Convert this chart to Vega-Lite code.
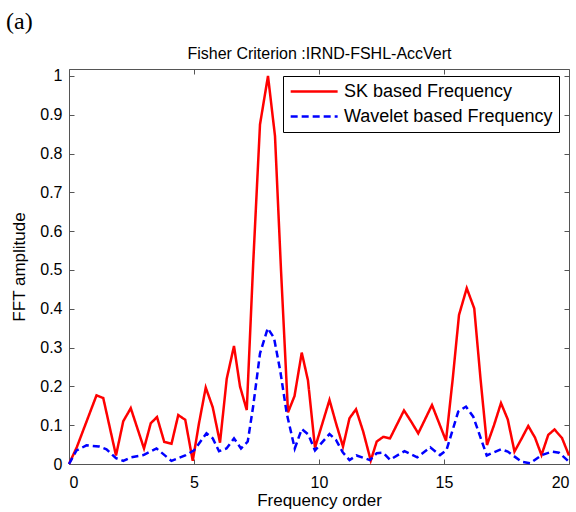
{
  "$schema": "https://vega.github.io/schema/vega-lite/v6.json",
  "width": 500,
  "height": 395,
  "autosize": {"type": "none"},
  "padding": {"left": 69, "top": 69, "right": 7, "bottom": 48},
  "config": {
    "view": {"stroke": "#555555", "strokeWidth": 1},
    "font": "Liberation Sans",
    "axis": {
      "labelFont": "Liberation Sans",
      "labelFontSize": 16,
      "labelColor": "#000000",
      "titleFont": "Liberation Sans",
      "titleFontSize": 17,
      "titleFontWeight": "normal",
      "titleColor": "#000000",
      "tickColor": "#555555",
      "tickSize": -5,
      "domain": false,
      "grid": false
    }
  },
  "title": {
    "text": "(a)",
    "anchor": "start",
    "frame": "group",
    "font": "Liberation Serif",
    "fontSize": 24,
    "fontWeight": "normal",
    "color": "#000000",
    "dx": -63,
    "offset": 12
  },
  "data": {
    "values": [
      {"f": 0, "amp": 0, "s": "SK based Frequency"},
      {"f": 0.31, "amp": 0.043, "s": "SK based Frequency"},
      {"f": 1.1, "amp": 0.177, "s": "SK based Frequency"},
      {"f": 1.37, "amp": 0.17, "s": "SK based Frequency"},
      {"f": 1.88, "amp": 0.022, "s": "SK based Frequency"},
      {"f": 2.17, "amp": 0.11, "s": "SK based Frequency"},
      {"f": 2.47, "amp": 0.144, "s": "SK based Frequency"},
      {"f": 3.0, "amp": 0.04, "s": "SK based Frequency"},
      {"f": 3.27, "amp": 0.105, "s": "SK based Frequency"},
      {"f": 3.52, "amp": 0.121, "s": "SK based Frequency"},
      {"f": 3.81, "amp": 0.057, "s": "SK based Frequency"},
      {"f": 4.1, "amp": 0.052, "s": "SK based Frequency"},
      {"f": 4.37, "amp": 0.126, "s": "SK based Frequency"},
      {"f": 4.65, "amp": 0.114, "s": "SK based Frequency"},
      {"f": 4.95, "amp": 0.008, "s": "SK based Frequency"},
      {"f": 5.2, "amp": 0.105, "s": "SK based Frequency"},
      {"f": 5.47, "amp": 0.197, "s": "SK based Frequency"},
      {"f": 5.75, "amp": 0.146, "s": "SK based Frequency"},
      {"f": 6.04, "amp": 0.055, "s": "SK based Frequency"},
      {"f": 6.31, "amp": 0.22, "s": "SK based Frequency"},
      {"f": 6.6, "amp": 0.304, "s": "SK based Frequency"},
      {"f": 6.84, "amp": 0.2, "s": "SK based Frequency"},
      {"f": 7.11, "amp": 0.139, "s": "SK based Frequency"},
      {"f": 7.37, "amp": 0.52, "s": "SK based Frequency"},
      {"f": 7.64, "amp": 0.875, "s": "SK based Frequency"},
      {"f": 7.96, "amp": 1.0, "s": "SK based Frequency"},
      {"f": 8.24, "amp": 0.845, "s": "SK based Frequency"},
      {"f": 8.48, "amp": 0.5, "s": "SK based Frequency"},
      {"f": 8.76, "amp": 0.133, "s": "SK based Frequency"},
      {"f": 9.02, "amp": 0.175, "s": "SK based Frequency"},
      {"f": 9.31, "amp": 0.287, "s": "SK based Frequency"},
      {"f": 9.56, "amp": 0.215, "s": "SK based Frequency"},
      {"f": 9.84, "amp": 0.042, "s": "SK based Frequency"},
      {"f": 10.42, "amp": 0.165, "s": "SK based Frequency"},
      {"f": 10.68, "amp": 0.105, "s": "SK based Frequency"},
      {"f": 10.96, "amp": 0.045, "s": "SK based Frequency"},
      {"f": 11.22, "amp": 0.118, "s": "SK based Frequency"},
      {"f": 11.48, "amp": 0.141, "s": "SK based Frequency"},
      {"f": 11.77, "amp": 0.083, "s": "SK based Frequency"},
      {"f": 12.07, "amp": 0.009, "s": "SK based Frequency"},
      {"f": 12.31, "amp": 0.058, "s": "SK based Frequency"},
      {"f": 12.57, "amp": 0.07, "s": "SK based Frequency"},
      {"f": 12.84, "amp": 0.066, "s": "SK based Frequency"},
      {"f": 13.4, "amp": 0.138, "s": "SK based Frequency"},
      {"f": 13.68, "amp": 0.11, "s": "SK based Frequency"},
      {"f": 13.97, "amp": 0.079, "s": "SK based Frequency"},
      {"f": 14.52, "amp": 0.152, "s": "SK based Frequency"},
      {"f": 15.08, "amp": 0.06, "s": "SK based Frequency"},
      {"f": 15.35, "amp": 0.22, "s": "SK based Frequency"},
      {"f": 15.6, "amp": 0.384, "s": "SK based Frequency"},
      {"f": 15.91, "amp": 0.453, "s": "SK based Frequency"},
      {"f": 16.21, "amp": 0.401, "s": "SK based Frequency"},
      {"f": 16.46, "amp": 0.22, "s": "SK based Frequency"},
      {"f": 16.72, "amp": 0.049, "s": "SK based Frequency"},
      {"f": 17.0, "amp": 0.1, "s": "SK based Frequency"},
      {"f": 17.28, "amp": 0.157, "s": "SK based Frequency"},
      {"f": 17.55, "amp": 0.115, "s": "SK based Frequency"},
      {"f": 17.82, "amp": 0.032, "s": "SK based Frequency"},
      {"f": 18.1, "amp": 0.065, "s": "SK based Frequency"},
      {"f": 18.37, "amp": 0.098, "s": "SK based Frequency"},
      {"f": 18.64, "amp": 0.068, "s": "SK based Frequency"},
      {"f": 18.9, "amp": 0.023, "s": "SK based Frequency"},
      {"f": 19.17, "amp": 0.075, "s": "SK based Frequency"},
      {"f": 19.42, "amp": 0.089, "s": "SK based Frequency"},
      {"f": 19.72, "amp": 0.067, "s": "SK based Frequency"},
      {"f": 20.0, "amp": 0.022, "s": "SK based Frequency"},
      {"f": 0, "amp": 0, "s": "Wavelet based Frequency"},
      {"f": 0.3, "amp": 0.035, "s": "Wavelet based Frequency"},
      {"f": 0.7, "amp": 0.048, "s": "Wavelet based Frequency"},
      {"f": 1.2, "amp": 0.045, "s": "Wavelet based Frequency"},
      {"f": 1.5, "amp": 0.038, "s": "Wavelet based Frequency"},
      {"f": 1.88, "amp": 0.015, "s": "Wavelet based Frequency"},
      {"f": 2.17, "amp": 0.008, "s": "Wavelet based Frequency"},
      {"f": 2.47, "amp": 0.017, "s": "Wavelet based Frequency"},
      {"f": 2.98, "amp": 0.023, "s": "Wavelet based Frequency"},
      {"f": 3.5, "amp": 0.04, "s": "Wavelet based Frequency"},
      {"f": 4.1, "amp": 0.008, "s": "Wavelet based Frequency"},
      {"f": 4.65, "amp": 0.022, "s": "Wavelet based Frequency"},
      {"f": 5.0, "amp": 0.035, "s": "Wavelet based Frequency"},
      {"f": 5.5, "amp": 0.079, "s": "Wavelet based Frequency"},
      {"f": 5.75, "amp": 0.066, "s": "Wavelet based Frequency"},
      {"f": 6.0, "amp": 0.033, "s": "Wavelet based Frequency"},
      {"f": 6.3, "amp": 0.04, "s": "Wavelet based Frequency"},
      {"f": 6.6, "amp": 0.066, "s": "Wavelet based Frequency"},
      {"f": 6.88, "amp": 0.04, "s": "Wavelet based Frequency"},
      {"f": 7.15, "amp": 0.058, "s": "Wavelet based Frequency"},
      {"f": 7.37, "amp": 0.15, "s": "Wavelet based Frequency"},
      {"f": 7.64, "amp": 0.285, "s": "Wavelet based Frequency"},
      {"f": 7.95, "amp": 0.35, "s": "Wavelet based Frequency"},
      {"f": 8.2, "amp": 0.325, "s": "Wavelet based Frequency"},
      {"f": 8.45, "amp": 0.24, "s": "Wavelet based Frequency"},
      {"f": 8.71, "amp": 0.13, "s": "Wavelet based Frequency"},
      {"f": 9.03, "amp": 0.04, "s": "Wavelet based Frequency"},
      {"f": 9.31, "amp": 0.09, "s": "Wavelet based Frequency"},
      {"f": 9.57, "amp": 0.076, "s": "Wavelet based Frequency"},
      {"f": 9.84, "amp": 0.035, "s": "Wavelet based Frequency"},
      {"f": 10.42, "amp": 0.077, "s": "Wavelet based Frequency"},
      {"f": 10.68, "amp": 0.062, "s": "Wavelet based Frequency"},
      {"f": 10.95, "amp": 0.03, "s": "Wavelet based Frequency"},
      {"f": 11.22, "amp": 0.01, "s": "Wavelet based Frequency"},
      {"f": 11.5, "amp": 0.022, "s": "Wavelet based Frequency"},
      {"f": 12.04, "amp": 0.01, "s": "Wavelet based Frequency"},
      {"f": 12.31, "amp": 0.028, "s": "Wavelet based Frequency"},
      {"f": 12.57, "amp": 0.029, "s": "Wavelet based Frequency"},
      {"f": 12.84, "amp": 0.011, "s": "Wavelet based Frequency"},
      {"f": 13.42, "amp": 0.033, "s": "Wavelet based Frequency"},
      {"f": 13.93, "amp": 0.017, "s": "Wavelet based Frequency"},
      {"f": 14.45, "amp": 0.043, "s": "Wavelet based Frequency"},
      {"f": 14.84, "amp": 0.023, "s": "Wavelet based Frequency"},
      {"f": 15.1, "amp": 0.036, "s": "Wavelet based Frequency"},
      {"f": 15.57, "amp": 0.135, "s": "Wavelet based Frequency"},
      {"f": 15.88, "amp": 0.148, "s": "Wavelet based Frequency"},
      {"f": 16.17, "amp": 0.122, "s": "Wavelet based Frequency"},
      {"f": 16.71, "amp": 0.022, "s": "Wavelet based Frequency"},
      {"f": 17.28, "amp": 0.038, "s": "Wavelet based Frequency"},
      {"f": 17.55, "amp": 0.032, "s": "Wavelet based Frequency"},
      {"f": 18.1, "amp": 0.006, "s": "Wavelet based Frequency"},
      {"f": 18.44, "amp": 0.002, "s": "Wavelet based Frequency"},
      {"f": 18.91, "amp": 0.023, "s": "Wavelet based Frequency"},
      {"f": 19.33, "amp": 0.032, "s": "Wavelet based Frequency"},
      {"f": 19.6, "amp": 0.029, "s": "Wavelet based Frequency"},
      {"f": 20.0, "amp": 0.006, "s": "Wavelet based Frequency"}
    ]
  },
  "layer": [
    {
      "mark": {"type": "line", "strokeWidth": 2.5, "strokeJoin": "miter"},
      "encoding": {
        "x": {
          "field": "f", "type": "quantitative",
          "scale": {"domain": [0, 20], "nice": false, "zero": false},
          "axis": {"orient": "bottom", "values": [0, 5, 10, 15, 20], "title": "Frequency order", "labelPadding": 15, "titlePadding": 2}
        },
        "y": {
          "field": "amp", "type": "quantitative",
          "scale": {"domain": [0, 1.018], "nice": false},
          "axis": {"orient": "left", "values": [0, 0.1, 0.2, 0.3, 0.4, 0.5, 0.6, 0.7, 0.8, 0.9, 1], "format": "~g", "title": "FFT amplitude", "labelPadding": 12, "titlePadding": 11}
        },
        "color": {
          "field": "s", "type": "nominal",
          "scale": {"domain": ["SK based Frequency", "Wavelet based Frequency"], "range": ["#ff0000", "#0000ff"]},
          "legend": {"title": null, "orient": "none", "legendX": 214, "legendY": 7, "direction": "vertical", "symbolType": "M-1,0H5", "symbolSize": 245, "symbolStrokeWidth": 2.5, "labelFont": "Liberation Sans", "labelFontSize": 18, "labelColor": "#000000", "labelOffset": 36, "padding": 6, "rowPadding": 6, "strokeColor": "#000000", "fillColor": "#ffffff", "labelLimit": 400}
        },
        "strokeDash": {
          "field": "s", "type": "nominal",
          "scale": {"domain": ["SK based Frequency", "Wavelet based Frequency"], "range": [[1, 0], [7, 4]]},
          "legend": {"title": null, "orient": "none", "legendX": 214, "legendY": 7, "direction": "vertical", "symbolType": "M-1,0H5", "symbolSize": 245, "symbolStrokeWidth": 2.5, "labelFont": "Liberation Sans", "labelFontSize": 18, "labelColor": "#000000", "labelOffset": 36, "padding": 6, "rowPadding": 6, "strokeColor": "#000000", "fillColor": "#ffffff", "labelLimit": 400}
        }
      }
    },
    {
      "mark": {"type": "point", "opacity": 0},
      "encoding": {
        "x": {
          "field": "f", "type": "quantitative",
          "axis": {"orient": "top", "values": [0, 5, 10, 15, 20], "labels": false, "title": "Fisher Criterion :IRND-FSHL-AccVert", "titleFontSize": 16, "titlePadding": 7}
        },
        "y": {
          "field": "amp", "type": "quantitative",
          "axis": {"orient": "right", "values": [0, 0.1, 0.2, 0.3, 0.4, 0.5, 0.6, 0.7, 0.8, 0.9, 1], "labels": false, "title": null}
        }
      }
    }
  ],
  "resolve": {"axis": {"x": "independent", "y": "independent"}}
}
